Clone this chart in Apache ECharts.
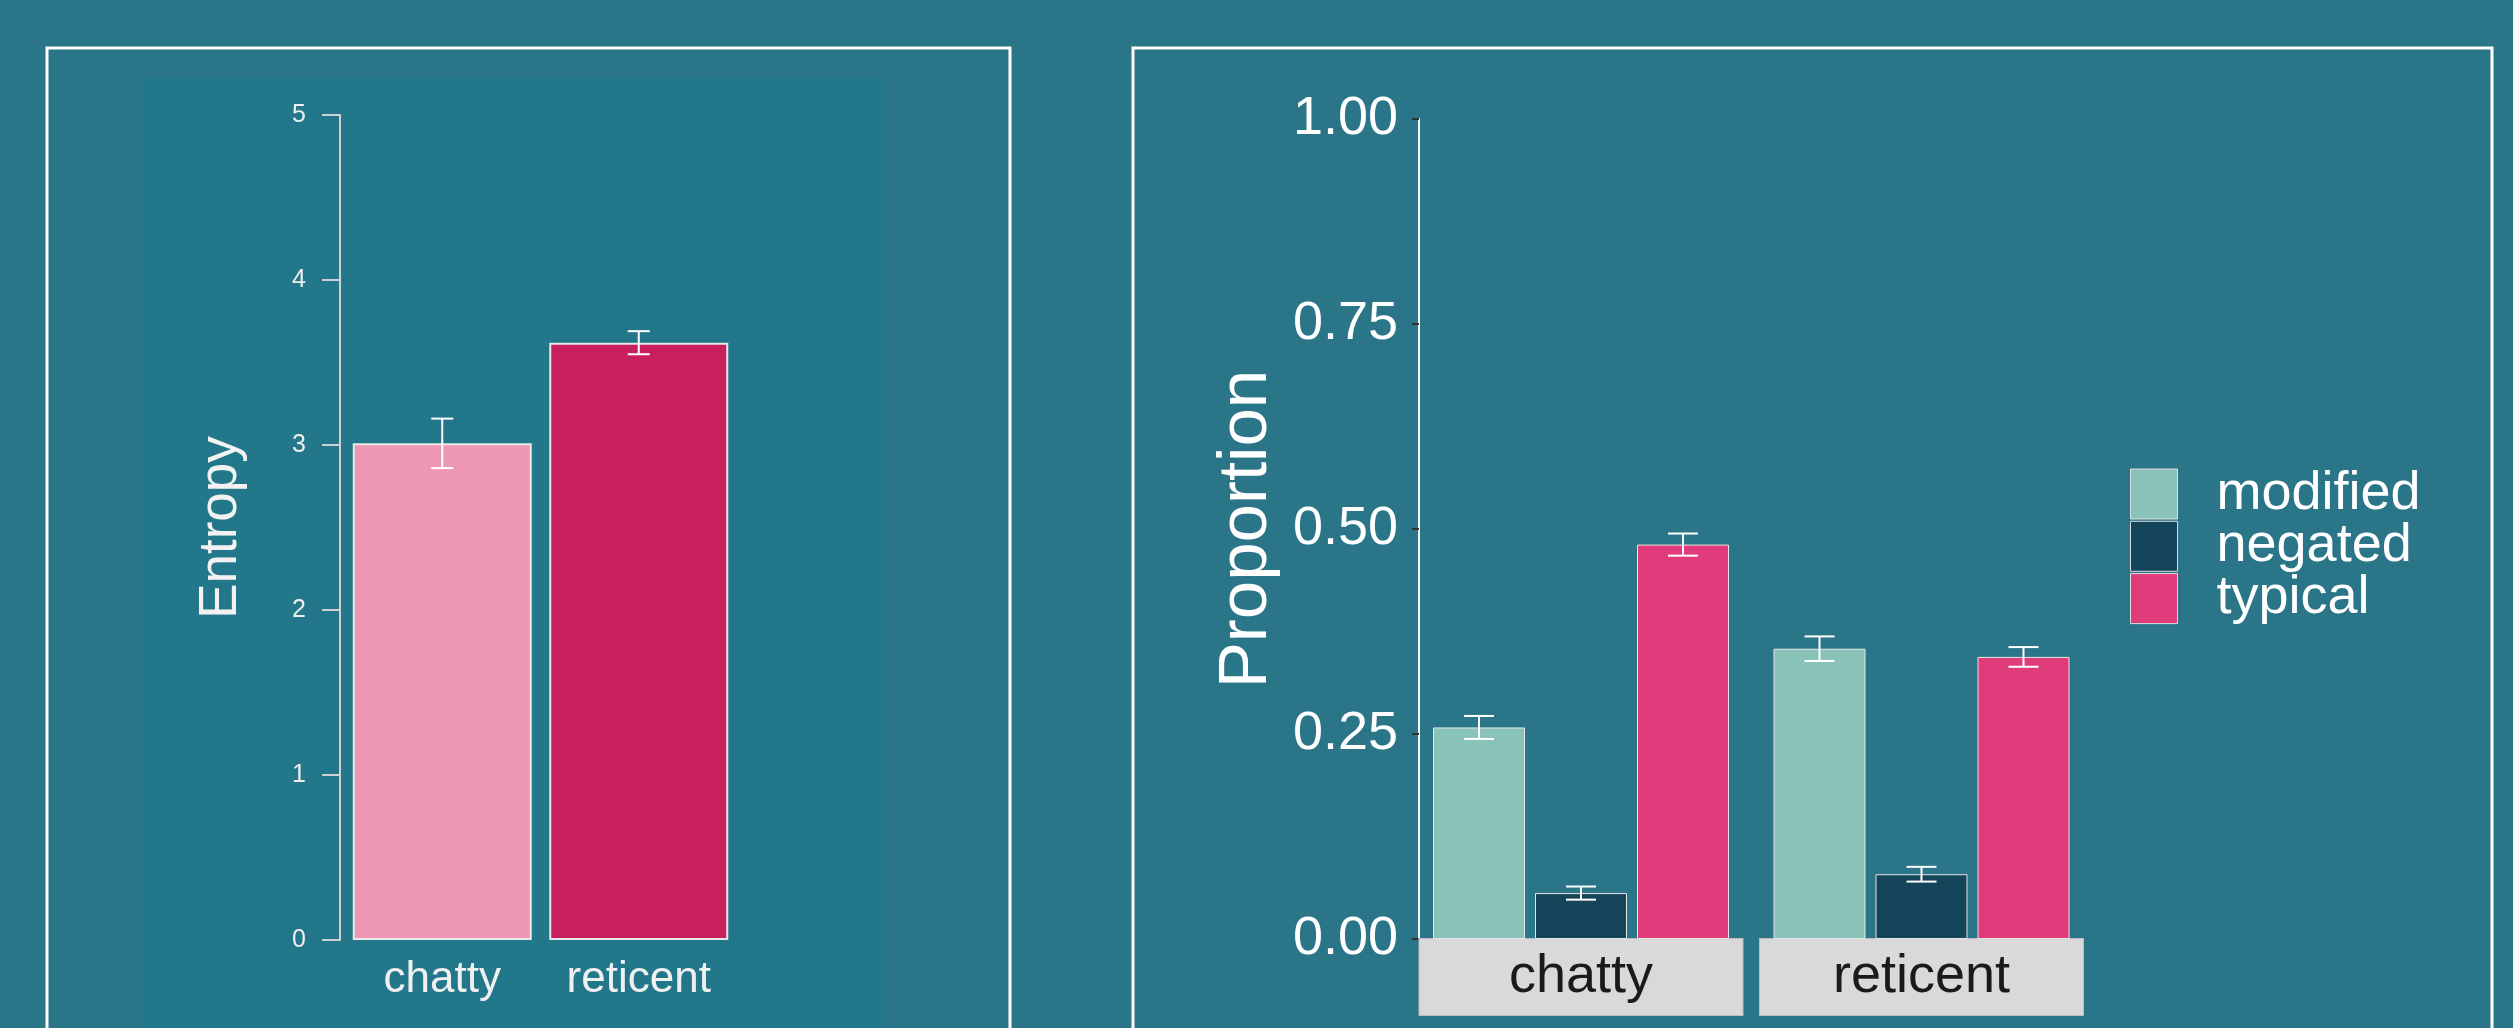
<!DOCTYPE html>
<html>
<head>
<meta charset="utf-8">
<title>Entropy / Proportion</title>
<script src="https://cdn.jsdelivr.net/npm/echarts@6/dist/echarts.min.js"></script>
<style>
	html, body { margin: 0; padding: 0; background: #2b7589; }
	#chart { width: 2513px; height: 1028px; }
</style>
</head>
<body>
<div id="chart"></div>
<script>
// ---- data: left panel (entropy) ----
var speakerTypes = ['chatty', 'reticent'];
var entropyMean = [3.01, 3.62];
var entropyErr = [0.15, 0.07];
var entropyTicks = [0, 1, 2, 3, 4, 5];

// ---- data: right panel (proportion per utterance type) ----
var uttTypes = ['modified', 'negated', 'typical'];
var modifiedMean = [0.258, 0.354];
var modifiedErr = [0.014, 0.015];
var negatedMean = [0.056, 0.079];
var negatedErr = [0.008, 0.009];
var typicalMean = [0.481, 0.344];
var typicalErr = [0.0135, 0.012];
var proportionTicks = [0, 0.25, 0.5, 0.75, 1];

var FONT = '"Liberation Sans", Arial, sans-serif';
var entropyColors = ['#ee97b5', '#c81f5e'];
var uttColors = ['#89c2b9', '#15455b', '#e03c7b'];

var propBarW = 92;     // bar width, right panel
var propBarGap = 10;   // gap between dodged bars

var chart = echarts.init(document.getElementById('chart'));

/**
 * error bar with caps
 * @param {array} hi  top point
 * @param {array} lo  bottom point
 * @param {number} x  centre x
 * @param {number} cap  cap half width
 */
function errShape(hi, lo, x, cap, lw) {
	var st = { stroke: '#ffffff', lineWidth: lw };
	return {
		type: 'group',
		children: [
			{ type: 'line', shape: { x1: x, y1: hi[1], x2: x, y2: lo[1] }, style: st },
			{ type: 'line', shape: { x1: x - cap, y1: hi[1], x2: x + cap, y2: hi[1] }, style: st },
			{ type: 'line', shape: { x1: x - cap, y1: lo[1], x2: x + cap, y2: lo[1] }, style: st }
		]
	};
}

function renderEntropyErr(params, api) {
	var i = api.value(0), m = api.value(1), e = api.value(2);
	var hi = api.coord([i, m + e]);
	var lo = api.coord([i, m - e]);
	return errShape(hi, lo, hi[0], 11, 2);
}

function renderPropErr(params, api) {
	var m = api.value(1), e = api.value(2), k = api.value(3);
	var hi = api.coord([0, m + e]);
	var lo = api.coord([0, m - e]);
	var x = hi[0] + (k - 1) * (propBarW + propBarGap);
	return errShape(hi, lo, x, 15, 2);
}

var propMeans = [modifiedMean, negatedMean, typicalMean];
var propErrs = [modifiedErr, negatedErr, typicalErr];

var series = [];

// left: entropy bars
series.push({
	type: 'bar',
	xAxisIndex: 0, yAxisIndex: 0,
	barWidth: 179,
	data: entropyMean.map(function (v, i) {
		return { value: v, itemStyle: { color: entropyColors[i] } };
	}),
	itemStyle: { borderColor: '#e8e8e8', borderWidth: 2 }
});
series.push({
	type: 'custom',
	xAxisIndex: 0, yAxisIndex: 0,
	renderItem: renderEntropyErr,
	data: entropyMean.map(function (v, i) { return [i, v, entropyErr[i]]; }),
	z: 5
});

// right: one facet per speaker type
for (var g = 0; g < speakerTypes.length; g++) {
	for (var k = 0; k < uttTypes.length; k++) {
		series.push({
			name: uttTypes[k],
			type: 'bar',
			xAxisIndex: g + 1, yAxisIndex: g + 1,
			barWidth: propBarW,
			barGap: (propBarGap / propBarW * 100) + '%',
			data: [propMeans[k][g]],
			itemStyle: { color: uttColors[k], borderColor: '#e6e6e6', borderWidth: 1 }
		});
	}
	series.push({
		type: 'custom',
		xAxisIndex: g + 1, yAxisIndex: g + 1,
		renderItem: renderPropErr,
		data: uttTypes.map(function (t, k) { return [0, propMeans[k][g], propErrs[k][g], k]; }),
		z: 5
	});
}

var stripLabel = {
	margin: 0,
	color: '#1a1a1a',
	fontFamily: FONT,
	fontSize: 54,
	backgroundColor: '#d9d9d9',
	borderColor: '#bdbdbd',
	borderWidth: 1,
	width: 323,
	height: 76,
	lineHeight: 76,
	align: 'center'
};

chart.setOption({
	backgroundColor: '#2b7589',
	animation: false,
	textStyle: { fontFamily: FONT },
	graphic: [
		{ type: 'rect', z: -10, shape: { x: 143, y: 77, width: 743, height: 1000 }, style: { fill: '#22788a' } },
		{ type: 'rect', shape: { x: 47, y: 48, width: 963, height: 1100 }, style: { fill: 'none', stroke: '#ffffff', lineWidth: 3 } },
		{ type: 'rect', shape: { x: 1133, y: 48, width: 1359, height: 1100 }, style: { fill: 'none', stroke: '#ffffff', lineWidth: 3 } }
	],
	legend: {
		data: uttTypes,
		orient: 'vertical',
		left: 2130, top: 467,
		padding: 0,
		icon: 'rect',
		itemWidth: 47, itemHeight: 50, itemGap: -1.7,
		itemStyle: { borderColor: '#dddddd', borderWidth: 1 },
		textStyle: { color: '#ffffff', fontSize: 54, fontFamily: FONT, padding: [0, 0, 0, 34] }
	},
	grid: [
		{ left: 344, top: 115, width: 393, height: 825 },
		{ left: 1419, top: 119, width: 324, height: 820 },
		{ left: 1759, top: 119, width: 325, height: 820 }
	],
	xAxis: [
		{
			type: 'category', gridIndex: 0, data: speakerTypes,
			axisLine: { show: false }, axisTick: { show: false },
			axisLabel: { color: '#f0f0f0', fontSize: 44, fontFamily: FONT, margin: 18 }
		},
		{
			type: 'category', gridIndex: 1, data: [speakerTypes[0]],
			axisLine: { show: false }, axisTick: { show: false },
			axisLabel: stripLabel
		},
		{
			type: 'category', gridIndex: 2, data: [speakerTypes[1]],
			axisLine: { show: false }, axisTick: { show: false },
			axisLabel: stripLabel
		}
	],
	yAxis: [
		{
			type: 'value', gridIndex: 0,
			min: entropyTicks[0], max: entropyTicks[entropyTicks.length - 1], interval: 1,
			offset: 4,
			name: 'Entropy', nameLocation: 'middle', nameGap: 92,
			nameTextStyle: { color: '#f2f2f2', fontSize: 53, fontFamily: FONT },
			axisLine: { show: true, lineStyle: { color: '#d0d0d0', width: 2 } },
			axisTick: { show: true, length: 18, lineStyle: { color: '#d0d0d0', width: 2 } },
			axisLabel: { color: '#eeeeee', fontSize: 25, fontFamily: FONT, margin: 34 },
			splitLine: { show: false }
		},
		{
			type: 'value', gridIndex: 1,
			min: proportionTicks[0], max: proportionTicks[proportionTicks.length - 1], interval: 0.25,
			name: 'Proportion', nameLocation: 'middle', nameGap: 138,
			nameTextStyle: { color: '#ffffff', fontSize: 69, fontFamily: FONT },
			axisLine: { show: true, lineStyle: { color: '#ffffff', width: 2 } },
			axisTick: { show: true, length: 7, lineStyle: { color: '#333333', width: 2 } },
			axisLabel: {
				color: '#ffffff', fontSize: 54, fontFamily: FONT, margin: 21,
				formatter: function (v) { return v.toFixed(2); }
			},
			splitLine: { show: false }
		},
		{
			type: 'value', gridIndex: 2,
			min: proportionTicks[0], max: proportionTicks[proportionTicks.length - 1], interval: 0.25,
			show: false
		}
	],
	series: series
});
</script>
</body>
</html>
